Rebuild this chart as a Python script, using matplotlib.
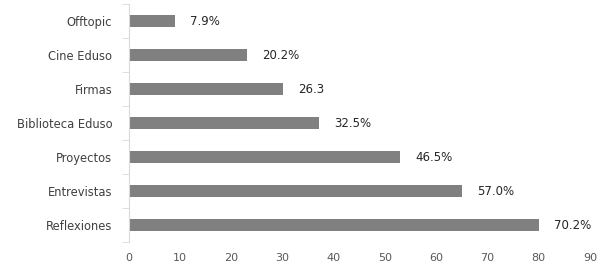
import numpy as np
from matplotlib import pyplot as plt

categories = ["Offtopic", "Cine Eduso", "Firmas", "Biblioteca Eduso", "Proyectos", "Entrevistas", "Reflexiones"]
values = [9, 23, 30, 37, 53, 65, 80]
value_labels = ["7.9%", "20.2%", "26.3", "32.5%", "46.5%", "57.0%", "70.2%"]
xticks = [0, 10, 20, 30, 40, 50, 60, 70, 80, 90]

plt.rcParams["font.family"] = ["DejaVu Sans"]

fig = plt.figure(figsize=(6.07, 2.72), dpi=100)
ax = fig.add_axes([0.2125, 0.11, 0.7595, 0.875])

y = np.arange(len(categories))
ax.barh(y, values, height=0.36, color="#808080")

for yi, v, lab in zip(y, values, value_labels):
    ax.annotate(lab, (v, yi), xytext=(11, 0), textcoords="offset points",
                ha="left", va="center", fontsize=8.5, color="#262626")

ax.set_ylim(len(categories) - 0.5, -0.5)
ax.set_xlim(0, 90)
ax.set_xticks(xticks)
ax.set_yticks(y)
ax.set_yticklabels(categories)
ax.set_yticks(np.arange(len(categories) + 1) - 0.5, minor=True)
ax.tick_params(axis="y", which="major", length=0, pad=12, labelsize=8.3, labelcolor="#404040")
ax.tick_params(axis="y", which="minor", length=5, color="#d9d9d9")
ax.tick_params(axis="x", length=0, pad=8, labelsize=8, labelcolor="#595959")

for side in ["top", "right", "bottom"]:
    ax.spines[side].set_visible(False)
ax.spines["left"].set_color("#d9d9d9")

plt.savefig("out.png", dpi=100)
plt.close()
